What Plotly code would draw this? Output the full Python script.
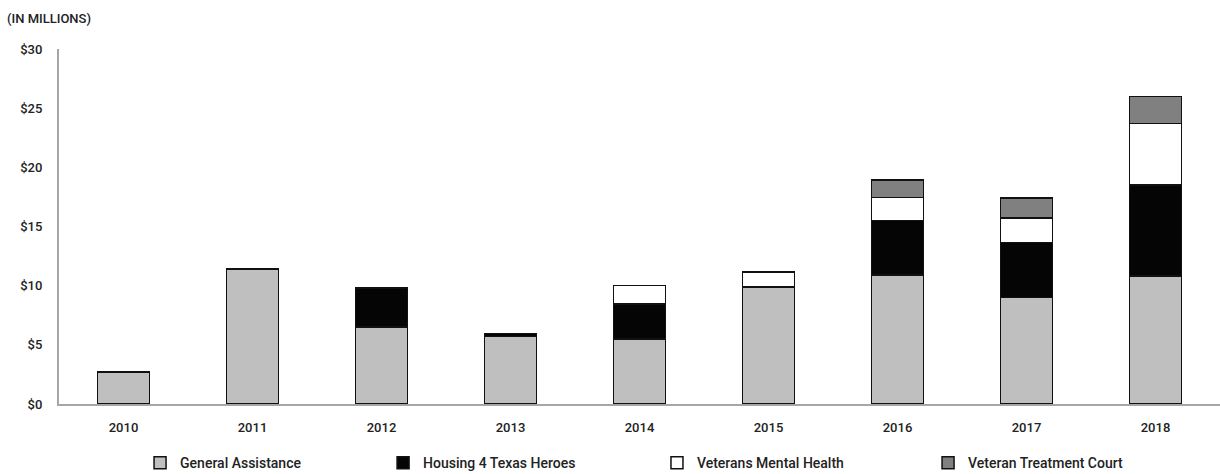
import plotly.graph_objects as go

# funding by year, in millions
years = ['2010', '2011', '2012', '2013', '2014', '2015', '2016', '2017', '2018']
general_assistance = [2.7, 11.4, 6.5, 5.7, 5.5, 9.9, 10.9, 9.0, 10.8]
housing_heroes = [0, 0, 3.3, 0.25, 2.95, 0, 4.6, 4.65, 7.7]
mental_health = [0, 0, 0, 0, 1.55, 1.25, 1.95, 2.05, 5.2]
treatment_court = [0, 0, 0, 0, 0, 0, 1.5, 1.7, 2.3]
y_ticks = [0, 5, 10, 15, 20, 25, 30]
y_labels = ['$0', '$5', '$10', '$15', '$20', '$25', '$30']

series = [
    ('General Assistance', general_assistance, '#bfbfbf'),
    ('Housing 4 Texas Heroes', housing_heroes, '#050505'),
    ('Veterans Mental Health', mental_health, '#ffffff'),
    ('Veteran Treatment Court', treatment_court, '#808080'),
]
# one legend per series so each entry can sit where the original has it
legend_x = [0.1148, 0.314, 0.5385, 0.7607]

font = "Roboto, sans-serif"

fig = go.Figure()
legends = {}
for i, (name, vals, col) in enumerate(series):
    key = 'legend' if i == 0 else 'legend%d' % (i + 1)
    fig.add_trace(go.Bar(
        name=name, x=years, y=vals, legend=key, showlegend=True,
        marker=dict(color=col, line=dict(color='#111111', width=1.5)),
    ))
    legends[key] = dict(orientation='h', x=legend_x[i], xref='container', xanchor='left',
                        yref='container', y=0.023, yanchor='middle',
                        font=dict(size=14), itemwidth=30, bgcolor='rgba(0,0,0,0)')

fig.update_layout(
    barmode='stack',
    bargap=0.6,
    showlegend=True,
    width=1220, height=474,
    margin=dict(l=59, r=0, t=49, b=70, autoexpand=False),
    plot_bgcolor='white', paper_bgcolor='white',
    font=dict(family=font, size=13, color='#222222', weight=500),
    annotations=[dict(text='(IN MILLIONS)', xref='paper', yref='paper', x=-0.0465, y=1.087,
                      xanchor='left', yanchor='middle', showarrow=False, font=dict(size=13))],
    **legends,
)
fig.update_yaxes(range=[0, 30], tickvals=y_ticks, ticktext=y_labels,
                 showgrid=False, showline=True, linecolor='#a6a6a6', linewidth=2,
                 ticks='', ticklabelstandoff=12, zeroline=False, automargin=False)
fig.update_xaxes(showline=True, linecolor='#a6a6a6', linewidth=2, ticks='', showgrid=False,
                 ticklabelstandoff=10, automargin=False)

fig.write_html("out.html", config={'displayModeBar': False},
               post_script="document.body.style.margin='0';")
